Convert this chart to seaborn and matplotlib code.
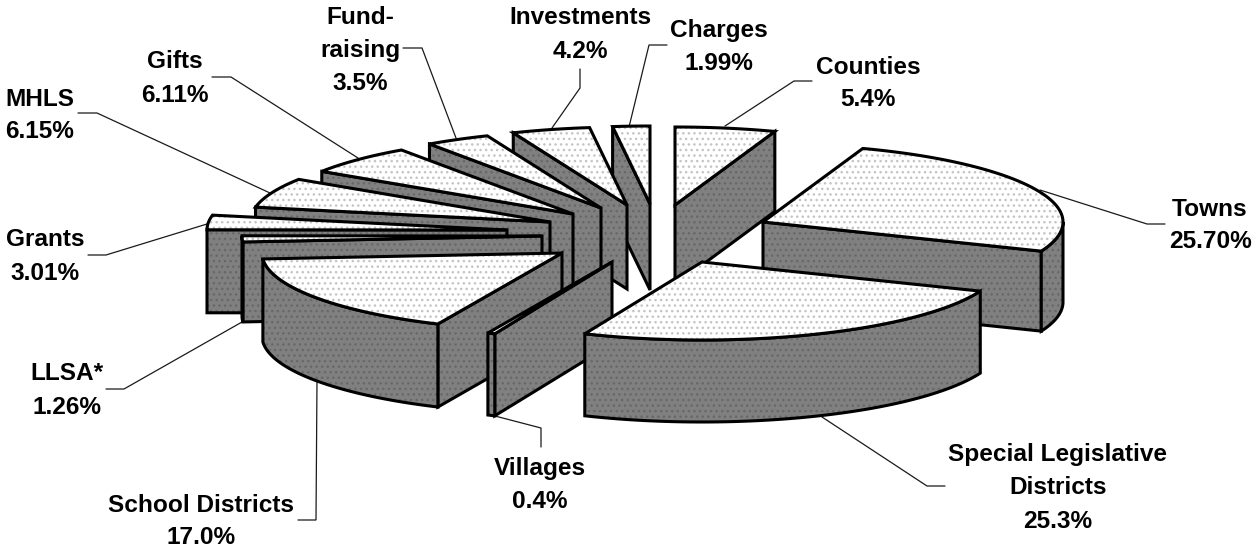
import numpy as np
import matplotlib
matplotlib.use("Agg")
import matplotlib.pyplot as plt
from matplotlib.patches import Polygon
import seaborn as sns

# ---- data ----
names = ["Counties", "Towns", "Special Legislative\nDistricts", "Villages",
         "School Districts", "LLSA*", "Grants", "MHLS", "Gifts",
         "Fund-\nraising", "Investments", "Charges"]
values = [5.4, 25.70, 25.3, 0.4, 17.0, 1.26, 3.01, 6.15, 6.11, 3.5, 4.2, 1.99]
value_text = ["5.4%", "25.70%", "25.3%", "0.4%", "17.0%", "1.26%", "3.01%",
              "6.15%", "6.11%", "3.5%", "4.2%", "1.99%"]

# ---- layout (separate from data) ----
centre = (650, 230)
radius_x, radius_y = 300, 78
slice_depth = [80, 80, 82, 82, 83, 80, 83, 82, 84, 87, 84, 86]
explode_x = [25, 113, 52, -38, -88, -108, -143, -100, -77, -49, -23, 0]
explode_y = [-25, -8, 32, 32, 23, 6, 0, -8, -16, -22, -25, -26]
label_x = [868, 1210, 1058, 540, 201, 67, 45, 40, 175, 360, 580, 719]
label_y = [65, 207, 453, 467, 503, 372, 238, 97, 60, 16, 16, 29]
line_step = 33
leaders = [
    [(725, 126), (794, 81), (812, 81)],
    [(1040, 190), (1147, 224), (1165, 224)],
    [(822, 417), (927, 486), (945, 486)],
    [(495, 416), (541, 428), (541, 447)],
    [(317, 380), (316, 520), (298, 520)],
    [(242, 322), (124, 389), (106, 389)],
    [(207, 224), (106, 255), (88, 255)],
    [(270, 193), (97, 113), (78, 113)],
    [(358, 158), (231, 77), (212, 77)],
    [(456, 138), (422, 48), (403, 48)],
    [(552, 128), (580, 88), (580, 69)],
    [(629, 127), (649, 45), (667, 45)],
]

sns.set_style("white")
plt.rcParams["font.family"] = ["Liberation Sans", "DejaVu Sans"]

fig = plt.figure(figsize=(12.53, 5.47), dpi=100)
ax = fig.add_axes([0, 0, 1, 1])
ax.set_xlim(0, 1253)
ax.set_ylim(547, 0)
ax.axis("off")
sns.despine(ax=ax, left=True, bottom=True)

TOP, WALL = "#ffffff", "#808080"
TOP_DOT, WALL_DOT = "#c4c4c4", "#686868"
LW = 2.2


def face(pts, fc, dot, z):
    pts = np.asarray(pts)
    ax.add_patch(Polygon(pts, closed=True, facecolor=fc, edgecolor=dot,
                         hatch="...", lw=0, zorder=z))
    ax.add_patch(Polygon(pts, closed=True, fill=False, edgecolor="black",
                         lw=LW, joinstyle="miter", zorder=z + 0.1))


def rim(ox, oy, a, b, n=80):
    t = np.radians(np.linspace(a, b, n))
    return np.column_stack([ox + radius_x * np.sin(t), oy - radius_y * np.cos(t)])


edges = np.concatenate([[0], np.cumsum(values)]) / np.sum(values) * 360
order = sorted(range(len(values)), key=lambda i: (explode_y[i], -i))
for rank, i in enumerate(order):
    a, b = edges[i], edges[i + 1]
    ox, oy = centre[0] + explode_x[i], centre[1] + explode_y[i]
    z = 2 + rank
    down = np.array([0, slice_depth[i]])
    apex = np.array([ox, oy])
    # radial faces turned towards the viewer
    if np.sin(np.radians(b)) > 0.001:
        p = rim(ox, oy, b, b, 1)[0]
        face([apex, p, p + down, apex + down], WALL, WALL_DOT, z)
    if np.sin(np.radians(a)) < -0.001:
        p = rim(ox, oy, a, a, 1)[0]
        face([apex, p, p + down, apex + down], WALL, WALL_DOT, z + 0.2)
    # outer curved face
    lo, hi = max(a, 90), min(b, 270)
    if hi > lo:
        arc = rim(ox, oy, lo, hi)
        face(np.vstack([arc, (arc + down)[::-1]]), WALL, WALL_DOT, z + 0.4)
    # top surface
    face(np.vstack([apex, rim(ox, oy, a, b)]), TOP, TOP_DOT, z + 0.6)

# ---- labels and leader lines ----
for name, vt, x, y, lead in zip(names, value_text, label_x, label_y, leaders):
    for k, line in enumerate(name.split("\n") + [vt]):
        ax.text(x, y + k * line_step + 8.5, line, ha="center", va="baseline",
                fontsize=17.6, fontweight="bold", color="black", zorder=50)
    xs, ys = zip(*lead)
    ax.plot(xs, ys, color="#1a1a1a", lw=0.9, zorder=1,
            solid_joinstyle="miter")

fig.savefig("out.png", dpi=100, facecolor="white")
